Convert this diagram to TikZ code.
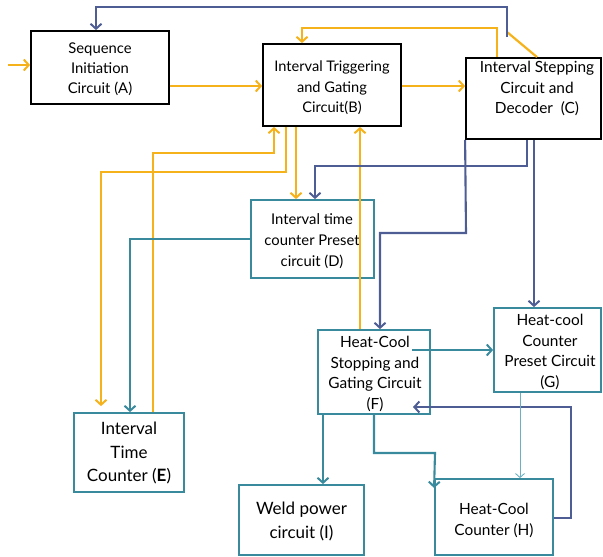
\documentclass[tikz,border=0pt]{standalone}
\usepackage{fontspec}
\setmainfont{Lato}
\usetikzlibrary{arrows.meta}
\definecolor{org}{HTML}{F5B21B}
\definecolor{nav}{HTML}{4E5D94}
\definecolor{tea}{HTML}{3A8A9E}
\definecolor{ltea}{HTML}{6BB0C0}
\tikzset{
  bbox/.style={draw=black, line width=1.8pt, inner sep=0pt},
  tbox/.style={draw=tea, line width=1.8pt, inner sep=0pt},
  lbl/.style={align=center, inner sep=0pt, text=black},
  tip/.style={-{Straight Barb[length=5pt,width=11pt,line width=2pt]}},
  oarr/.style={draw=org, line width=2.2pt, tip},
  oline/.style={draw=org, line width=2.2pt},
  barr/.style={draw=nav, line width=2.1pt, tip},
  tarr/.style={draw=tea, line width=2.1pt, tip},
  ltarr/.style={draw=ltea, line width=0.9pt, -{Straight Barb[length=4pt,width=9pt,line width=0.9pt]}},
}
\begin{document}
\begin{tikzpicture}[x=1pt,y=-1pt]
\useasboundingbox (0,0) rectangle (603,557);
% boxes
\node[bbox, minimum width=138pt, minimum height=73pt] (A) at (100,67.5) {};
\node[bbox, minimum width=138pt, minimum height=82pt] (B) at (332,85) {};
\node[bbox, minimum width=135pt, minimum height=81pt] (C) at (533.5,98.5) {};
\node[tbox, minimum width=123pt, minimum height=78pt] (D) at (312.5,239) {};
\node[tbox, minimum width=110pt, minimum height=79pt] (E) at (129,452.5) {};
\node[tbox, minimum width=112pt, minimum height=84pt] (F) at (374,372) {};
\node[tbox, minimum width=107pt, minimum height=84pt] (G) at (547.5,350) {};
\node[tbox, minimum width=118pt, minimum height=76pt] (H) at (494,517) {};
\node[tbox, minimum width=125pt, minimum height=70pt] (I) at (301.5,520) {};
% labels
\node[lbl, font=\fontsize{14.8}{20}\selectfont] (At) at (100,69) {Sequence\\Initiation\\Circuit (A)};
\node[lbl, font=\fontsize{14.6}{20.5}\selectfont] (Bt) at (332,88) {Interval Triggering\\and Gating\\Circuit(B)};
\node[lbl, font=\fontsize{15.4}{20.5}\selectfont] (Ct) at (537,88.5) {Interval Stepping\\Circuit and\\Decoder\ \ (C)};
\node[lbl, font=\fontsize{14.8}{21}\selectfont] (Dt) at (312,241) {Interval time\\counter Preset\\circuit (D)};
\node[lbl, font=\fontsize{17}{23.5}\selectfont] (Et) at (129,453) {Interval\\Time\\Counter (\textbf{E})};
\node[lbl, font=\fontsize{15.4}{20.7}\selectfont] (Ft) at (375,374) {Heat-Cool\\Stopping and\\Gating Circuit\\(F)};
\node[lbl, font=\fontsize{15.4}{20.7}\selectfont] (Gt) at (550,352) {Heat-cool\\Counter\\Preset Circuit\\(G)};
\node[lbl, font=\fontsize{15.4}{21}\selectfont] (Ht) at (494,520) {Heat-Cool\\Counter (H)};
\node[lbl, font=\fontsize{17}{24}\selectfont] (It) at (301.5,521) {Weld power\\circuit (I)};
% free ends
\coordinate (inp) at (8,65);
\coordinate (bstart) at (507,37);
\coordinate (bjoin) at (507,32);
\coordinate (fs) at (412,350);
\coordinate (fin) at (413,407);
% orange
\draw[oarr] (inp) -- (A.west |- inp);
\draw[oarr] (A.east |- 0,86) -- (B.west |- 0,86);
\draw[oarr] (B.east |- 0,86) -- (C.west |- 0,86);
\draw[oarr] (C.north -| 497,0) -- (497,28) -- (302,28) -- (B.north -| 302,0);
\draw[oline] (C.north -| 537,0) -- (bjoin);
\draw[oarr, shorten >=6pt] (B.south -| 286,0) -- (286,172) -- (101,172) -- (E.north -| 101,0);
\draw[oarr] (B.south -| 296,0) -- (D.north -| 296,0);
\draw[oarr] (E.north -| 153,0) -- (153,153) -- (274,153) -- (B.south -| 274,0);
\draw[oarr] (F.north -| 360,0) -- (B.south -| 360,0);
% navy
\draw[barr] (bstart) -- (507,7) -- (96,7) -- (A.north -| 96,0);
\draw[barr] (C.south -| 527,0) -- (527,166) -- (315,166) -- (D.north -| 315,0);
\draw[barr] (C.south west) -- (466,233) -- (380,233) -- (F.north -| 380,0);
\draw[barr] (C.south -| 534,0) -- (G.north -| 534,0);
\draw[barr] (H.east |- 0,518) -- (571,518) -- (571,407) -- (fin);
% teal
\draw[tarr] (D.west) -- (D.west -| 130,0) -- (E.north -| 130,0);
\draw[tarr] (fs) -- (G.west |- fs);
\draw[tarr] (F.south -| 323,0) -- (I.north -| 323,0);
\draw[tarr] (F.south -| 374,0) -- (374,453) -- (435,453) -- (H.west |- 0,488);
\draw[ltarr] (G.south -| 520,0) -- (H.north -| 520,0);
\end{tikzpicture}
\end{document}
